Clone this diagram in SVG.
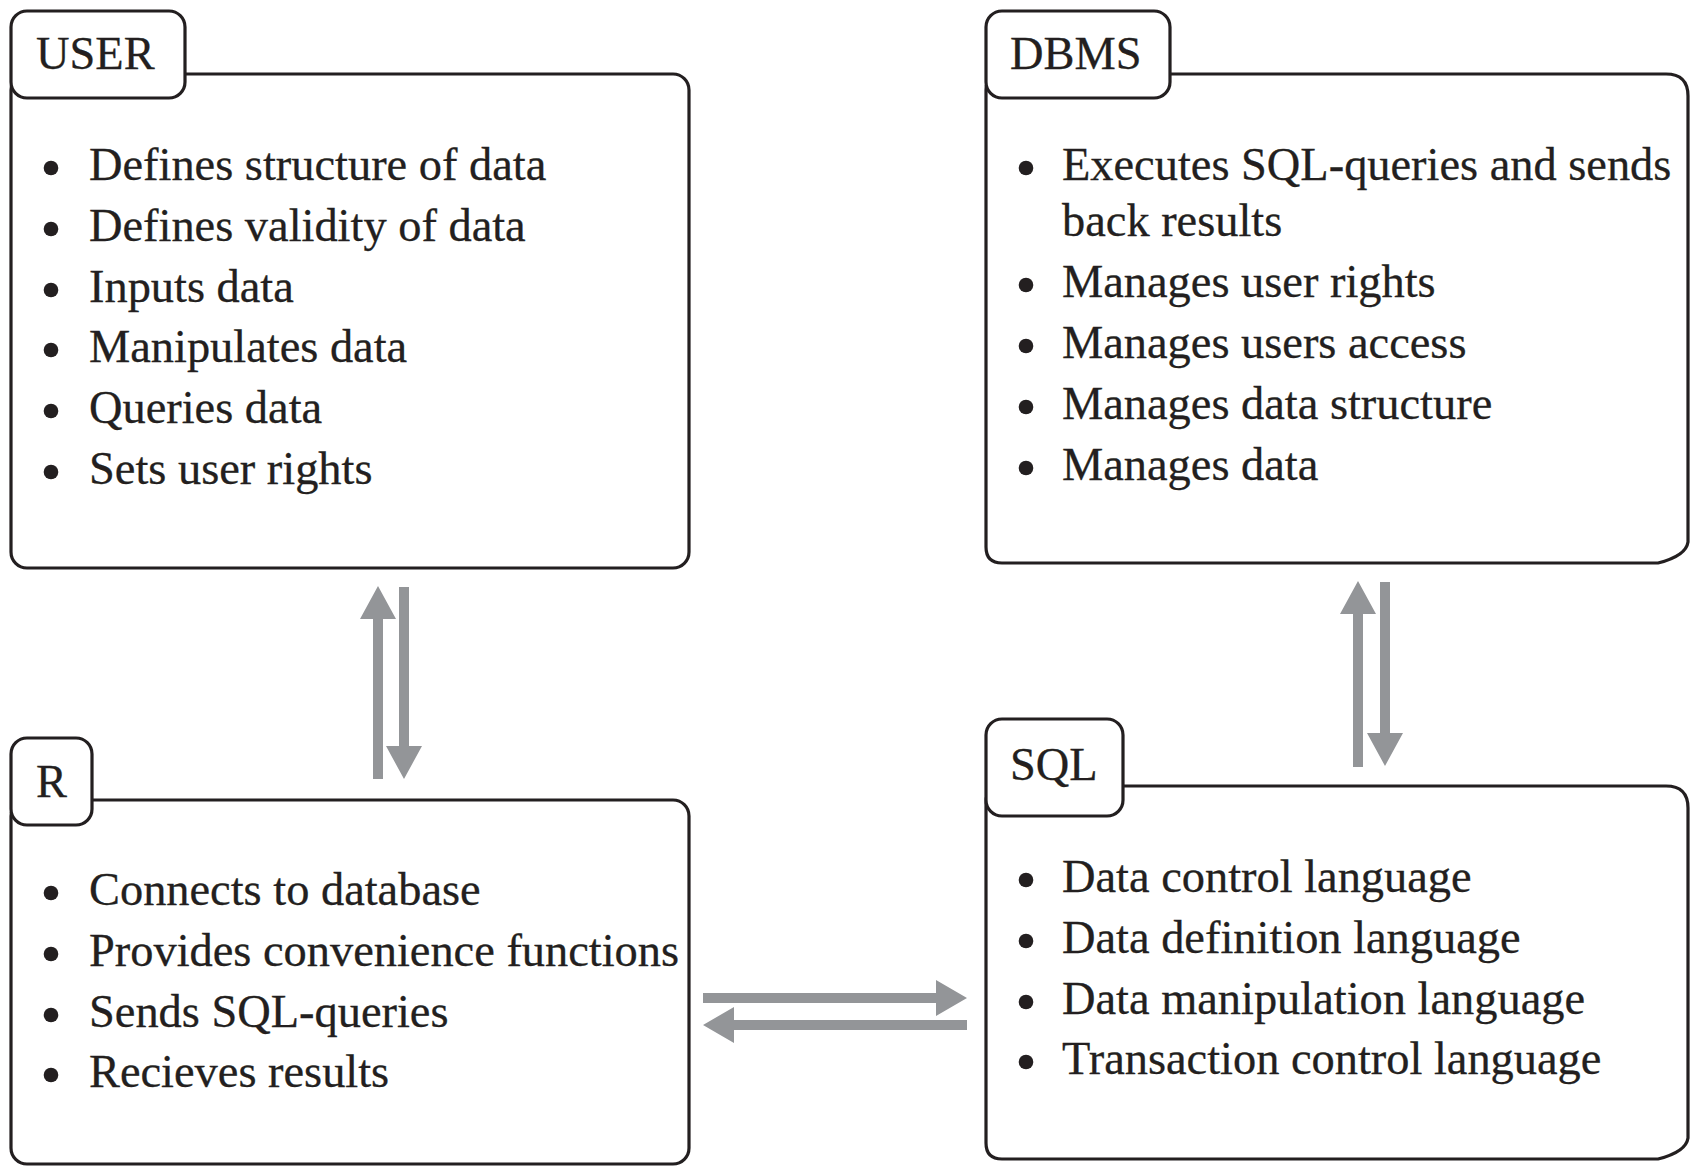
<svg xmlns="http://www.w3.org/2000/svg" width="1702" height="1172" viewBox="0 0 1702 1172">
<style>
.box{fill:#fff;stroke:#231f20;stroke-width:3.2}
.t{font-family:"Liberation Serif","Times New Roman",serif;font-size:46.4px;fill:#231f20;stroke:#231f20;stroke-width:0.3}
.b{fill:#231f20}
.arr{fill:#939598}
</style>
<rect width="1702" height="1172" fill="#fff"/>
<g id="user">
<rect class="box" x="11" y="74" width="678" height="494" rx="16"/>
<rect class="box" x="11" y="11" width="174" height="87" rx="16"/>
<text class="t" x="36" y="69">USER</text>
<g class="b"><circle cx="51" cy="168" r="7.3"/><circle cx="51" cy="229" r="7.3"/><circle cx="51" cy="290" r="7.3"/><circle cx="51" cy="350" r="7.3"/><circle cx="51" cy="411" r="7.3"/><circle cx="51" cy="472" r="7.3"/></g>
<text class="t" x="89" y="180">Defines structure of data</text>
<text class="t" x="89" y="241">Defines validity of data</text>
<text class="t" x="89" y="302">Inputs data</text>
<text class="t" x="89" y="362">Manipulates data</text>
<text class="t" x="89" y="423">Queries data</text>
<text class="t" x="89" y="484">Sets user rights</text>
</g>
<g id="dbms">
<path class="box" d="M1002 74 H1666 Q1688 74 1688 96 V542 Q1686 556 1658 563 H1002 Q986 563 986 547 V90 Q986 74 1002 74 Z"/>
<rect class="box" x="986" y="11" width="184" height="87" rx="16"/>
<text class="t" x="1010" y="69">DBMS</text>
<g class="b"><circle cx="1026" cy="168" r="7.3"/><circle cx="1026" cy="285" r="7.3"/><circle cx="1026" cy="346" r="7.3"/><circle cx="1026" cy="407" r="7.3"/><circle cx="1026" cy="468" r="7.3"/></g>
<text class="t" x="1062" y="180">Executes SQL-queries and sends</text>
<text class="t" x="1062" y="236">back results</text>
<text class="t" x="1062" y="297">Manages user rights</text>
<text class="t" x="1062" y="358">Manages users access</text>
<text class="t" x="1062" y="419">Manages data structure</text>
<text class="t" x="1062" y="480">Manages data</text>
</g>
<g id="r">
<rect class="box" x="11" y="800" width="678" height="364" rx="16"/>
<rect class="box" x="11" y="738" width="81" height="87" rx="16"/>
<text class="t" x="36" y="797">R</text>
<g class="b"><circle cx="51" cy="893" r="7.3"/><circle cx="51" cy="954" r="7.3"/><circle cx="51" cy="1015" r="7.3"/><circle cx="51" cy="1075" r="7.3"/></g>
<text class="t" x="89" y="905">Connects to database</text>
<text class="t" x="89" y="966">Provides convenience functions</text>
<text class="t" x="89" y="1027">Sends SQL-queries</text>
<text class="t" x="89" y="1087">Recieves results</text>
</g>
<g id="sql">
<path class="box" d="M1002 786 H1666 Q1688 786 1688 808 V1138 Q1686 1152 1658 1159 H1002 Q986 1159 986 1143 V802 Q986 786 1002 786 Z"/>
<rect class="box" x="986" y="719" width="137" height="97" rx="16"/>
<text class="t" x="1010" y="780">SQL</text>
<g class="b"><circle cx="1026" cy="880" r="7.3"/><circle cx="1026" cy="941" r="7.3"/><circle cx="1026" cy="1002" r="7.3"/><circle cx="1026" cy="1062" r="7.3"/></g>
<text class="t" x="1062" y="892">Data control language</text>
<text class="t" x="1062" y="953">Data definition language</text>
<text class="t" x="1062" y="1014">Data manipulation language</text>
<text class="t" x="1062" y="1074">Transaction control language</text>
</g>
<g id="connectors" class="arr">
<path d="M373 779 V619 H360 L378 586 L396 619 H383 V779 Z"/>
<path d="M399 587 V746 H386 L404 779 L422 746 H409 V587 Z"/>
<path d="M1353 767 V614 H1340 L1358 581 L1376 614 H1363 V767 Z"/>
<path d="M1380 582 V733 H1367 L1385 766 L1403 733 H1390 V582 Z"/>
<path d="M703 993 H936 V980 L967 998 L936 1016 V1003 H703 Z"/>
<path d="M967 1020 H734 V1007 L703 1025 L734 1043 V1030 H967 Z"/>
</g>
</svg>
